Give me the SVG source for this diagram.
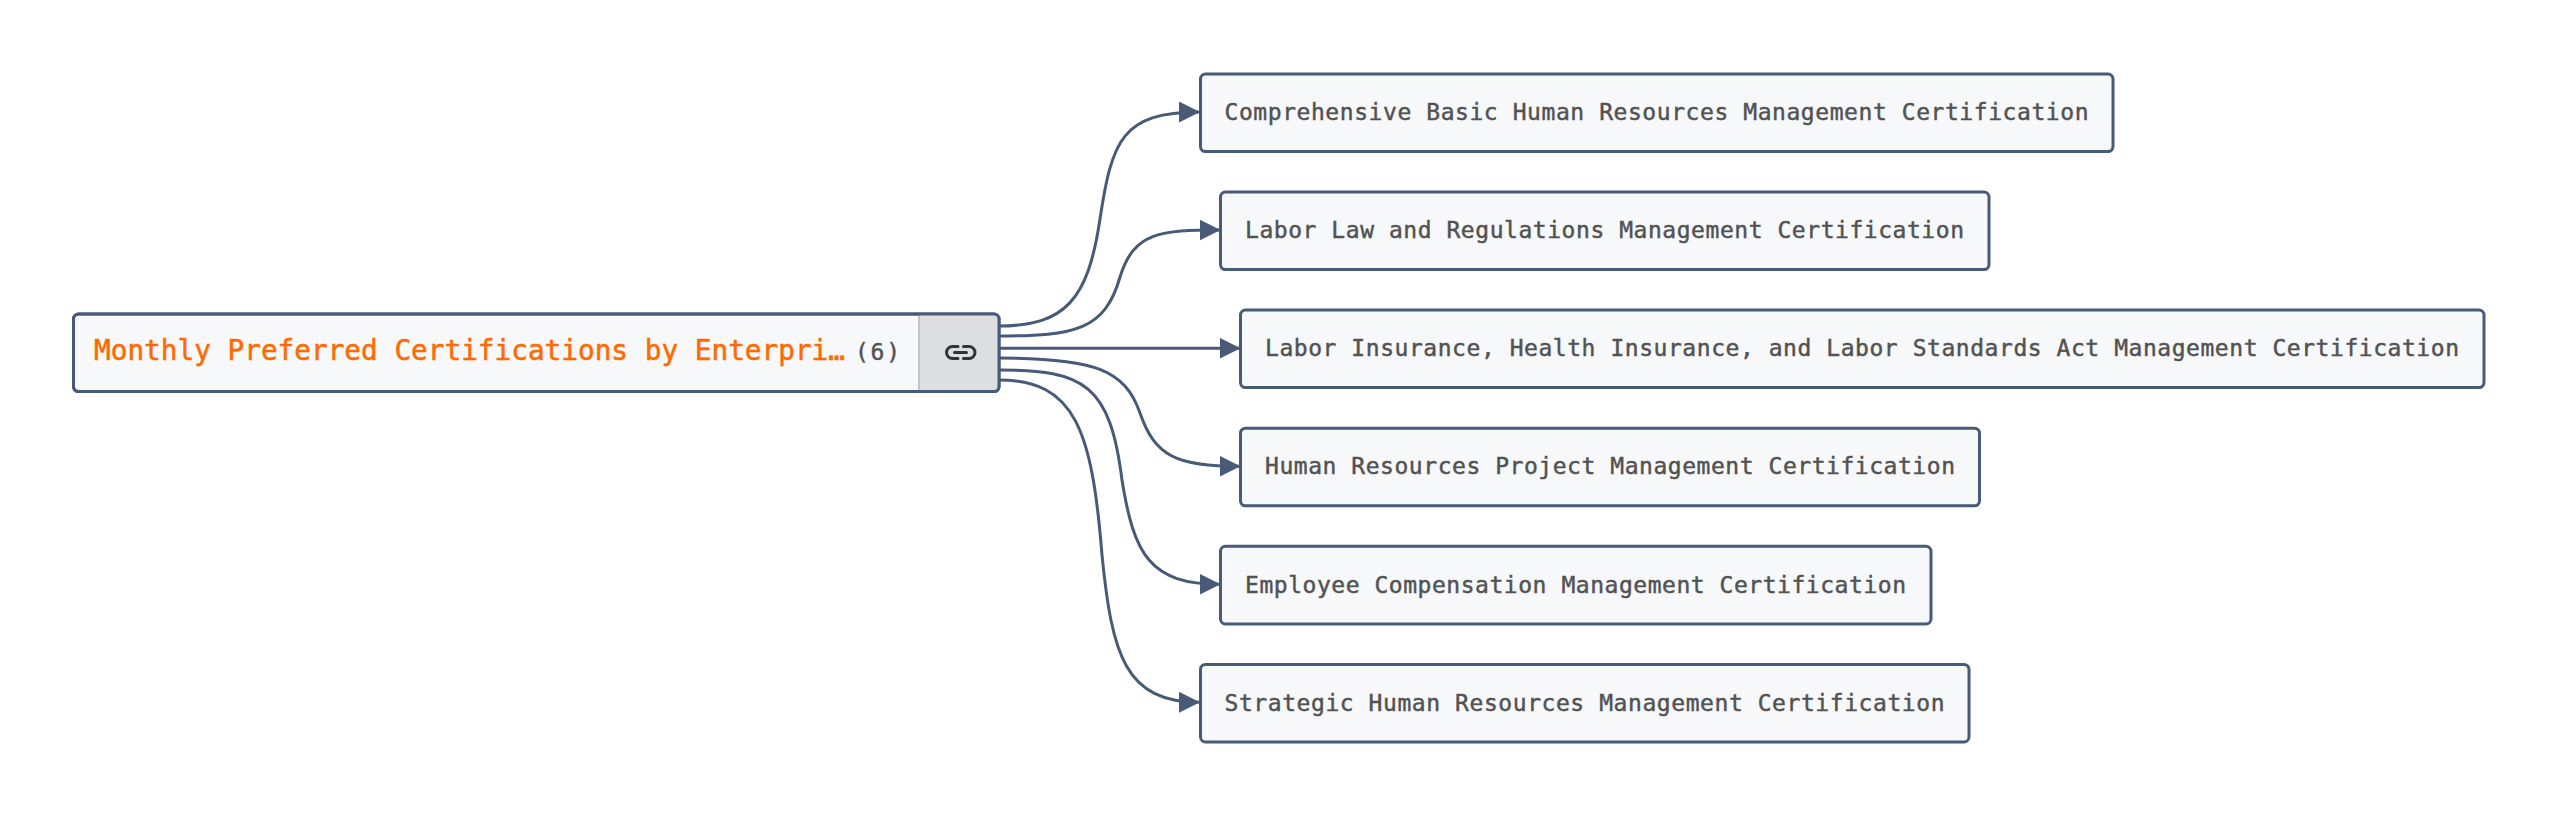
<svg xmlns="http://www.w3.org/2000/svg" width="2558" height="816" viewBox="0 0 2558 816">
<style>
.box{fill:#f6f8fa;stroke:#475a78;stroke-width:3}
.t{font-family:"DejaVu Sans Mono","Liberation Mono",monospace;font-size:23px;fill:#525252;stroke:#525252;stroke-width:.45}
.r{font-family:"DejaVu Sans Mono","Liberation Mono",monospace;font-size:27.5px;fill:#ff6a00;stroke:#ff6a00;stroke-width:.5}
.edge{fill:none;stroke:#475a78;stroke-width:3}
</style>
<defs>
<marker id="arrow" markerUnits="userSpaceOnUse" markerWidth="21" markerHeight="21" refX="21" refY="10.500" orient="auto"><path d="M0 0L21 10.500L0 21Z" fill="#475a78"/></marker>
<clipPath id="rc"><rect x="73.500" y="314" width="925.500" height="77.600" rx="5"/></clipPath>
</defs>
<g id="connectors">
<path class="edge" marker-end="url(#arrow)" d="M999 326C1065 326 1088 300 1100 219C1112 140 1122 112 1200 112"/>
<path class="edge" marker-end="url(#arrow)" d="M999 336C1075 336 1105 330 1120 277C1134 232 1160 230 1220.500 230"/>
<path class="edge" marker-end="url(#arrow)" d="M999 348.200H1240.500"/>
<path class="edge" marker-end="url(#arrow)" d="M999 358C1095 358 1125 370 1140 413C1155 456 1175 466.300 1240.500 466.300"/>
<path class="edge" marker-end="url(#arrow)" d="M999 370C1085 370 1110 385 1122 480C1134 555 1150 584.300 1220.500 584.300"/>
<path class="edge" marker-end="url(#arrow)" d="M999 380C1075 380 1092 430 1102 555C1112 655 1125 702.300 1200 702.300"/>
</g>
<g id="root">
<rect class="box" x="73.500" y="314" width="925.500" height="77.600" rx="5"/>
<rect x="919" y="314" width="80" height="77.600" fill="#dcdee0" clip-path="url(#rc)"/>
<path d="M919 315V390.500" stroke="#c0c3c7" stroke-width="2" fill="none"/>
<rect x="73.500" y="314" width="925.500" height="77.600" rx="5" fill="none" stroke="#475a78" stroke-width="3"/>
<text class="r" x="94" y="360" textLength="751" lengthAdjust="spacingAndGlyphs">Monthly Preferred Certifications by Enterpri…</text>
<text class="t" x="855" y="360" textLength="45">(6)</text>
<path d="M958 346.500H952.500A6 6 0 0 0 952.500 358.500H958M963.500 346.500H969A6 6 0 0 1 969 358.500H963.500M954.500 352.500H966.500" fill="none" stroke="#333" stroke-width="3" stroke-linecap="round"/>
</g>
<g id="n1"><rect class="box" x="1200.500" y="74" width="912.500" height="77.600" rx="5"/><text class="t" x="1224.500" y="120" textLength="864">Comprehensive Basic Human Resources Management Certification</text></g>
<g id="n2"><rect class="box" x="1220.500" y="192" width="768.500" height="77.600" rx="5"/><text class="t" x="1245" y="238" textLength="719">Labor Law and Regulations Management Certification</text></g>
<g id="n3"><rect class="box" x="1240.500" y="310" width="1243.500" height="77.600" rx="5"/><text class="t" x="1265" y="356" textLength="1194">Labor Insurance, Health Insurance, and Labor Standards Act Management Certification</text></g>
<g id="n4"><rect class="box" x="1240.500" y="428.200" width="739" height="77.600" rx="5"/><text class="t" x="1265" y="474.300" textLength="690">Human Resources Project Management Certification</text></g>
<g id="n5"><rect class="box" x="1220.500" y="546.300" width="710.500" height="77.600" rx="5"/><text class="t" x="1245" y="592.500" textLength="661">Employee Compensation Management Certification</text></g>
<g id="n6"><rect class="box" x="1200.500" y="664.400" width="768.500" height="77.600" rx="5"/><text class="t" x="1224.500" y="710.500" textLength="720">Strategic Human Resources Management Certification</text></g>
</svg>
